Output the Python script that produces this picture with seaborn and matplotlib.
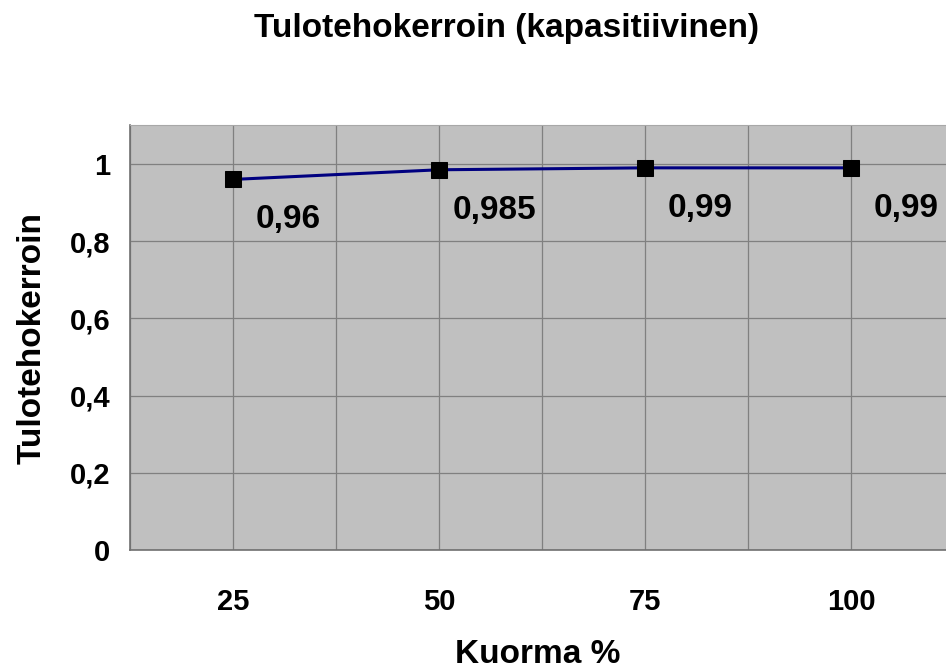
import matplotlib
matplotlib.use("Agg")
import matplotlib.pyplot as plt
import seaborn as sns
import pandas as pd

# --- Data ---
kuorma = [25, 50, 75, 100]
kerroin = [0.96, 0.985, 0.99, 0.99]
kerroin_labels = ["0,96", "0,985", "0,99", "0,99"]
y_ticks = [0, 0.2, 0.4, 0.6, 0.8, 1.0]
y_tick_labels = ["0", "0,2", "0,4", "0,6", "0,8", "1"]

sns.set_style("white")
plt.rcParams["font.family"] = ["Liberation Sans", "DejaVu Sans"]
plt.rcParams["font.weight"] = "bold"
plt.rcParams["text.color"] = "black"
plt.rcParams["axes.labelcolor"] = "black"
plt.rcParams["xtick.color"] = "black"
plt.rcParams["ytick.color"] = "black"

df = pd.DataFrame({"Kuorma": kuorma, "Kerroin": kerroin})

fig = plt.figure(figsize=(9.46, 6.70), dpi=100)
ax = fig.add_axes([130 / 946, 120 / 670, 816 / 946, 425 / 670])
ax.set_facecolor("#C0C0C0")

sns.lineplot(ax=ax, data=df, x="Kuorma", y="Kerroin", color="#000080",
             linewidth=2.2, marker="s", markersize=11.5,
             markerfacecolor="black", markeredgecolor="black", zorder=5)

# data labels below-right of each point
for xv, yv, lab in zip(kuorma, kerroin, kerroin_labels):
    ax.annotate(lab, (xv, yv), xytext=(40, -29), textcoords="offset points",
                ha="center", va="center", fontsize=24, fontweight="bold",
                color="black")

ax.set_xlim(12.5, 12.5 + 816 / 8.24)
ax.set_ylim(0, 1.101)

# category labels at centres, tick marks between categories
ax.set_xticks(kuorma)
ax.set_xticklabels([str(k) for k in kuorma])
ax.set_xticks([12.5, 37.5, 62.5, 87.5], minor=True)
ax.tick_params(axis="x", which="major", length=0, pad=27, labelsize=21,
               labelcolor="black")
ax.tick_params(axis="x", which="minor", length=7, width=1, color="#808080",
               direction="out")
ax.set_yticks(y_ticks)
ax.set_yticklabels(y_tick_labels)
ax.tick_params(axis="y", length=7, width=1, color="#808080", direction="out",
               pad=7, labelsize=21, labelcolor="black")

ax.grid(True, which="both", axis="x", color="#808080", linewidth=0.9)
ax.grid(True, which="major", axis="y", color="#808080", linewidth=0.9)
ax.set_axisbelow(True)

for side in ["left", "bottom"]:
    ax.spines[side].set_color("#707070")
    ax.spines[side].set_linewidth(1.2)
ax.spines["top"].set_color("#A8A8A8")
ax.spines["right"].set_visible(False)

ax.set_xlabel("Kuorma %", fontsize=24, fontweight="bold", labelpad=17,
              color="black")
ax.set_ylabel("Tulotehokerroin", fontsize=24, fontweight="bold", labelpad=16,
              color="black")

fig.text(506 / 946, 1 - 29 / 670, "Tulotehokerroin (kapasitiivinen)",
         ha="center", va="center", fontsize=24, fontweight="bold",
         color="black")

fig.savefig("out.png", dpi=100)
